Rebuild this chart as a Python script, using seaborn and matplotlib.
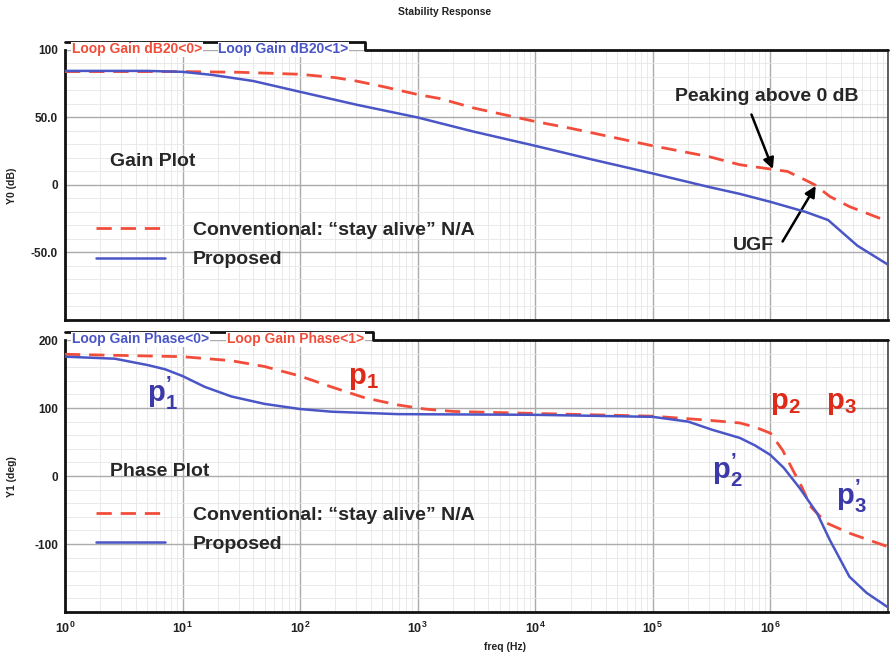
# -*- coding: utf-8 -*-
# Bode plot: gain and phase of loop gain, conventional vs proposed
import matplotlib.pyplot as plt
import matplotlib.ticker as mticker
from matplotlib.lines import Line2D
import pandas as pd
import seaborn as sns

# data
gain_freq_conv = [1, 10, 30, 100, 200, 300, 500, 1e3, 1.55e3, 3e3, 1e4, 2e4,
                  1e5, 3e5, 5.5e5, 1e6, 1.4e6, 2e6, 2.4e6, 3.2e6, 4.7e6, 1e7]
gain_conv = [84, 84, 83.5, 82, 79.5, 77, 73, 67, 64, 57, 47, 42,
             29, 21, 15, 11.8, 10, 3.5, 0, -8.5, -16, -27]

gain_freq_prop = [1, 5, 10, 18, 40, 100, 300, 1e3, 3e3, 1e4, 3e4, 1e5,
                  3e5, 5.5e5, 1e6, 2e6, 3.1e6, 5.5e6, 1e7]
gain_prop = [84.5, 84.5, 83.8, 81.5, 77, 69, 59.5, 50, 39.5, 29, 19, 8.5,
             -1.5, -6.6, -12.5, -20, -26, -45, -59]

phase_freq_conv = [1, 10, 26, 50, 100, 185, 355, 680, 1150, 2e3, 1e4, 1e5,
                   3e5, 5.5e5, 7.4e5, 1e6, 1.27e6, 1.55e6, 1.85e6, 2.2e6,
                   3e6, 4.7e6, 1e7]
phase_conv = [179, 175.5, 169.6, 161, 147, 131, 115, 104.5, 98.5, 95, 92, 88,
              82, 78, 72, 63, 38, 9, -16, -45, -69, -84, -104]

phase_freq_prop = [1, 2.66, 5.1, 7.1, 10, 15.5, 26, 50, 100, 185, 680, 1e4,
                   1e5, 2e5, 3.2e5, 5.5e5, 7.4e5, 1e6, 1.3e6, 1.78e6, 2.5e6,
                   3.2e6, 4.7e6, 6.6e6, 1e7]
phase_prop = [175.5, 172.5, 163, 157, 147, 131, 117, 106, 98.5, 94.6, 91, 90,
              87, 80, 68, 56, 45, 31, 12, -18, -55, -94, -148, -172, -193]

gain_ticks = [-50, 0, 50, 100]
gain_ticklabels = ['-50.0', '0', '50.0', '100']
phase_ticks = [-100, 0, 100, 200]
phase_ticklabels = ['-100', '0', '100', '200']
freq_ticks = [1, 10, 100, 1e3, 1e4, 1e5, 1e6, 1e7]
freq_ticklabels = [r'$\mathbf{10^{%d}}$' % i for i in range(7)] + ['']

LABEL_CONV = u'Conventional: \u201cstay alive\u201d N/A'
LABEL_PROP = 'Proposed'
RED = '#f24d3a'
BLUE = '#4a56c6'
TXT_RED = '#de2a18'
TXT_BLUE = '#3b3aa8'
PRIME = u'\u2019'

sns.set_style('white')
plt.rcParams['font.family'] = ['Liberation Sans', 'DejaVu Sans']
plt.rcParams['mathtext.fontset'] = 'custom'
plt.rcParams['mathtext.rm'] = 'Liberation Sans'
plt.rcParams['mathtext.bf'] = 'Liberation Sans:bold'
plt.rcParams['mathtext.it'] = 'Liberation Sans:italic'

fig = plt.figure(figsize=(8.9, 6.55), dpi=100)
ax_g = fig.add_axes([0.0730, 0.5115, 0.9247, 0.4122])
ax_p = fig.add_axes([0.0730, 0.0656, 0.9247, 0.4153])

df_gc = pd.DataFrame({'freq': gain_freq_conv, 'val': gain_conv})
df_gp = pd.DataFrame({'freq': gain_freq_prop, 'val': gain_prop})
df_pc = pd.DataFrame({'freq': phase_freq_conv, 'val': phase_conv})
df_pp = pd.DataFrame({'freq': phase_freq_prop, 'val': phase_prop})

dash = (0, (5.5, 3.2))
for ax, dc, dp in [(ax_g, df_gc, df_gp), (ax_p, df_pc, df_pp)]:
    sns.lineplot(data=dc, x='freq', y='val', ax=ax, color=RED, lw=2.0,
                 linestyle=dash, label=LABEL_CONV, zorder=4)
    sns.lineplot(data=dp, x='freq', y='val', ax=ax, color=BLUE, lw=1.8,
                 label=LABEL_PROP, zorder=4)
    ax.set_xscale('log')
    ax.set_xlim(1, 1e7)
    ax.set_xlabel('')
    ax.set_ylabel('')
    ax.xaxis.set_major_locator(mticker.FixedLocator(freq_ticks))
    ax.xaxis.set_minor_locator(mticker.LogLocator(base=10, subs=range(2, 10), numticks=20))
    ax.xaxis.set_minor_formatter(mticker.NullFormatter())
    ax.yaxis.set_minor_locator(mticker.AutoMinorLocator(5))
    ax.grid(which='major', color='#ababab', lw=1.0, zorder=0)
    ax.grid(which='minor', color='#e6e6e6', lw=0.6, zorder=0)
    ax.tick_params(which='major', direction='out', length=4, width=1.2,
                   labelsize=8.5, colors='#222222', pad=1)
    ax.tick_params(which='minor', direction='in', length=3, width=0.8,
                   colors='#333333')
    ax.tick_params(axis='x', which='major', direction='in', length=4)
    for side in ['left', 'bottom']:
        ax.spines[side].set_linewidth(2.0)
        ax.spines[side].set_color('#111111')
    ax.spines['right'].set_linewidth(1.2)
    ax.spines['right'].set_color('#444444')
    ax.spines['top'].set_visible(False)
    leg = ax.legend(loc='upper left', frameon=False, fontsize=14,
                    handlelength=3.55, handletextpad=1.45, labelspacing=0.6,
                    borderpad=0, borderaxespad=0)
    for t in leg.get_texts():
        t.set_fontweight('bold')

ax_g.set_ylim(-100, 100)
ax_g.set_yticks(gain_ticks)
ax_g.set_yticklabels(gain_ticklabels, fontweight='bold')
ax_g.set_xticklabels([])
ax_g.get_legend().set_bbox_to_anchor((0.0377, 0.365), transform=ax_g.transAxes)

ax_p.set_ylim(-200, 200)
ax_p.set_yticks(phase_ticks)
ax_p.set_yticklabels(phase_ticklabels, fontweight='bold')
ax_p.set_xticklabels(freq_ticklabels, fontsize=9)
ax_p.tick_params(axis='x', which='major', pad=6)
ax_p.get_legend().set_bbox_to_anchor((0.0377, 0.39), transform=ax_p.transAxes)

# tab-style header with the trace names
def draw_tab(ax, tab_w, tab_h, names):
    ax.add_line(Line2D([0, tab_w, tab_w, 1], [1 + tab_h, 1 + tab_h, 1, 1],
                       transform=ax.transAxes, color='#111111', lw=2.0,
                       clip_on=False, zorder=6))
    x = 0.0085
    for txt, col, dx in names:
        ax.text(x, 1.002, txt, transform=ax.transAxes, color=col,
                fontsize=10, fontweight='bold', ha='left', va='center',
                zorder=7, bbox=dict(facecolor='white', edgecolor='none', pad=0.5))
        x += dx

draw_tab(ax_g, 0.3645, 0.03,
         [('Loop Gain dB20<0>', RED, 0.178), ('Loop Gain dB20<1>', BLUE, 0)])
draw_tab(ax_p, 0.374, 0.031,
         [('Loop Gain Phase<0>', BLUE, 0.188), ('Loop Gain Phase<1>', RED, 0)])

# annotations on the gain plot
ax_g.text(2.41, 17.6, 'Gain Plot', fontsize=14, fontweight='bold',
          ha='left', va='center')
ax_g.text(9.3e5, 65.4, 'Peaking above 0 dB', fontsize=14, fontweight='bold',
          ha='center', va='center')
ax_g.annotate('', xy=(1.05e6, 11.8), xytext=(6.9e5, 52.2),
              arrowprops=dict(arrowstyle='-|>', lw=1.8, color='black',
                              mutation_scale=16, shrinkA=0, shrinkB=0))
ax_g.text(7.2e5, -44.9, 'UGF', fontsize=14, fontweight='bold',
          ha='center', va='center')
ax_g.annotate('', xy=(2.43e6, -0.7), xytext=(1.27e6, -41.9),
              arrowprops=dict(arrowstyle='-|>', lw=1.8, color='black',
                              mutation_scale=16, shrinkA=0, shrinkB=0))

# annotations on the phase plot
def pole(n, primed):
    sup = '^{\\mathbf{' + PRIME + '}}' if primed else ''
    return '$\\mathbf{p}' + sup + '_{\\mathbf{' + n + '}}$'

pole_labels = [
    (4.98, 122, pole('1', True), TXT_BLUE),
    (255, 144, pole('1', False), TXT_RED),
    (9.9e5, 108, pole('2', False), TXT_RED),
    (2.95e6, 108, pole('3', False), TXT_RED),
    (3.2e5, 8, pole('2', True), TXT_BLUE),
    (3.6e6, -30, pole('3', True), TXT_BLUE),
]
ax_p.text(2.41, 6, 'Phase Plot', fontsize=14, fontweight='bold',
          ha='left', va='center')
for x, y, s, c in pole_labels:
    ax_p.text(x, y, s, fontsize=21, color=c, ha='left', va='center', zorder=5)

# figure-level labels
fig.text(0.5, 0.982, 'Stability Response', fontsize=7.5, fontweight='bold',
         ha='center', va='center', color='#222222')
fig.text(0.0135, 0.716, 'Y0 (dB)', rotation=90, fontsize=7.5,
         fontweight='bold', ha='center', va='center', color='#222222')
fig.text(0.0135, 0.273, 'Y1 (deg)', rotation=90, fontsize=7.5,
         fontweight='bold', ha='center', va='center', color='#222222')
fig.text(0.567, 0.012, 'freq (Hz)', fontsize=7.5, fontweight='bold',
         ha='center', va='center', color='#222222')

fig.savefig('out.png', dpi=100)
plt.close('all')
